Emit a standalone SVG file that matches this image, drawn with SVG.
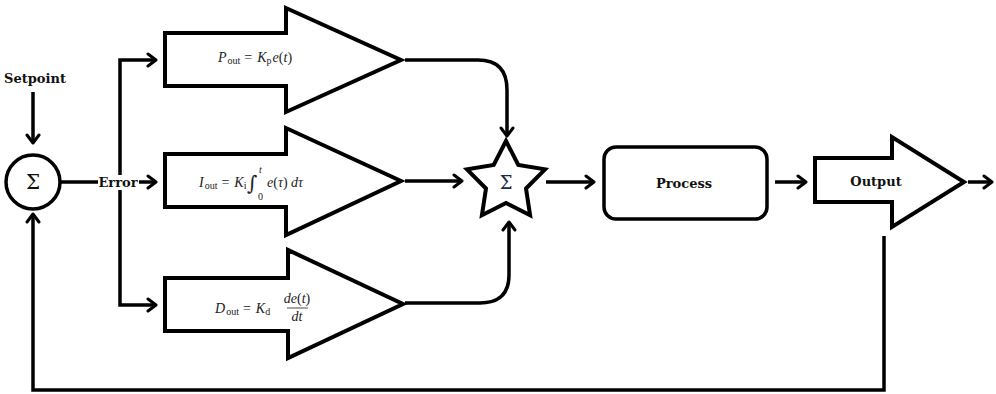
<svg xmlns="http://www.w3.org/2000/svg" width="996" height="394" viewBox="0 0 996 394">
<defs>
<style>
.shape{fill:#fff;stroke:#000;stroke-width:4;stroke-linejoin:miter}
.line{fill:none;stroke:#000;stroke-width:3.5}
.lbl{font-family:"DejaVu Serif","Liberation Serif",serif;font-weight:bold;font-size:13px;fill:#111}
.math{font-family:"Liberation Serif","DejaVu Serif",serif;font-size:14px;fill:#222}
.it{font-style:italic}
.sub{font-size:10px}
</style>
<marker id="ah" viewBox="0 0 12 16" refX="10" refY="8" markerWidth="12" markerHeight="16" markerUnits="userSpaceOnUse" orient="auto">
<path d="M2,2 L10,8 L2,14" fill="none" stroke="#000" stroke-width="3" stroke-linecap="round" stroke-linejoin="round"/>
</marker>
</defs>
<rect width="996" height="394" fill="#fff"/>

<g id="connectors">
<path class="line" d="M33,92 V143" marker-end="url(#ah)"/>
<path class="line" d="M61,182 H98"/>
<path class="line" d="M139,182 H156" marker-end="url(#ah)"/>
<path class="line" d="M120,175 V60 H156" marker-end="url(#ah)"/>
<path class="line" d="M120,190 V305 H156" marker-end="url(#ah)"/>
<path class="line" d="M405,60 H478 Q507,60 507,90 V136" marker-end="url(#ah)"/>
<path class="line" d="M405,181 H462" marker-end="url(#ah)"/>
<path class="line" d="M405,303 H480 Q509,303 509,275 V222" marker-end="url(#ah)"/>
<path class="line" d="M546,182 H594" marker-end="url(#ah)"/>
<path class="line" d="M775,182 H806" marker-end="url(#ah)"/>
<path class="line" d="M968,182 H992" marker-end="url(#ah)"/>
<path class="line" d="M884,236 V390 H33 V214" marker-end="url(#ah)"/>
</g>

<g id="setpoint">
<text class="lbl" x="35" y="83" text-anchor="middle">Setpoint</text>
</g>

<g id="sum1">
<circle cx="33" cy="182" r="27" fill="#fff" stroke="#000" stroke-width="3.5"/>
<text x="33" y="189" text-anchor="middle" font-family="DejaVu Serif, serif" font-size="20" fill="#111">Σ</text>
</g>

<g id="error">
<text class="lbl" x="118" y="187" text-anchor="middle">Error</text>
</g>

<g id="p-term">
<path class="shape" d="M165,33 H286 V8 L401,60 L286,112 V86 H165 Z"/>
<text class="math" x="218" y="62"><tspan class="it">P</tspan><tspan class="sub" dx="1" dy="2">out</tspan><tspan dx="4" dy="-2">=</tspan><tspan class="it" dx="5">K</tspan><tspan class="sub" dy="2">p</tspan><tspan class="it" dx="1" dy="-2">e</tspan>(<tspan class="it">t</tspan>)</text>
</g>

<g id="i-term">
<path class="shape" d="M165,154 H286 V128 L401,181 L286,235 V207 H165 Z"/>
<text class="math" x="199" y="187"><tspan class="it">I</tspan><tspan class="sub" dx="1" dy="2">out</tspan><tspan dx="4" dy="-2">=</tspan><tspan class="it" dx="5">K</tspan><tspan class="sub" dy="2">i</tspan></text>
<text x="247" y="190" font-family="DejaVu Serif, serif" font-size="20" fill="#222">∫</text>
<text class="math sub it" x="259" y="173">t</text>
<text class="math sub" x="258" y="200">0</text>
<text class="math" x="267" y="187"><tspan class="it">e</tspan>(<tspan class="it">τ</tspan>) <tspan class="it">dτ</tspan></text>
</g>

<g id="d-term">
<path class="shape" d="M165,278 H288 V250 L403,304 L288,358 V331 H165 Z"/>
<text class="math" x="215" y="313"><tspan class="it">D</tspan><tspan class="sub" dx="1" dy="2">out</tspan><tspan dx="4" dy="-2">=</tspan><tspan class="it" dx="5">K</tspan><tspan class="sub" dy="2">d</tspan></text>
<text class="math it" x="297" y="303" text-anchor="middle">de<tspan font-style="normal">(</tspan>t<tspan font-style="normal">)</tspan></text>
<line x1="287" y1="308" x2="308" y2="308" stroke="#222" stroke-width="0.8"/>
<text class="math it" x="297" y="321" text-anchor="middle">dt</text>
</g>

<g id="sum2">
<path class="shape" stroke-width="3.5" d="M506,141 L518.3,165 L545,169.3 L526,188.5 L530.1,215.2 L506,203 L481.9,215.2 L486,188.5 L467,169.3 L493.7,165 Z"/>
<text x="506" y="189" text-anchor="middle" font-family="DejaVu Serif, serif" font-size="18" fill="#1a2a44">Σ</text>
</g>

<g id="process">
<rect x="604" y="147" width="163" height="72" rx="12" ry="12" fill="#fff" stroke="#000" stroke-width="3.5"/>
<text class="lbl" x="684" y="188" text-anchor="middle">Process</text>
</g>

<g id="output">
<path class="shape" d="M815,158 H892 V137 L964,182 L892,227 V202 H815 Z"/>
<text class="lbl" x="876" y="186" text-anchor="middle">Output</text>
</g>
</svg>
